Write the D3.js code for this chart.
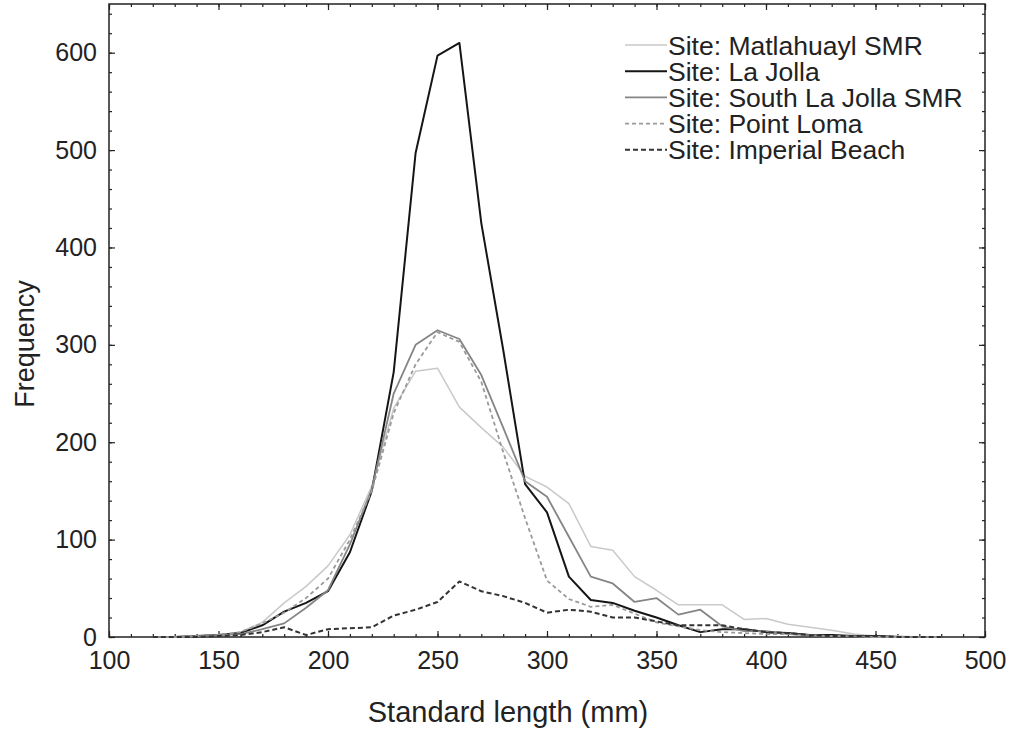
<html>
<head>
  <meta charset="utf-8" />
  <title>Standard length frequency</title>
  <script src="https://d3js.org/d3.v7.min.js"></script>
</head>
<style>
  body { margin: 0; background: #fff; }
  svg { font-family: "Liberation Sans", Arial, sans-serif; }
</style>
<body>
<svg class="main" width="1011" height="734"></svg>
<script>

// bin centres (mm)
var bins = [120, 130, 140, 150, 160, 170, 180, 190, 200, 210, 220, 230, 240, 250, 260, 270, 280, 290,
  300, 310, 320, 330, 340, 350, 360, 370, 380, 390, 400, 410, 420, 430, 440, 450, 460, 470, 480]

var matlahuayl = [0, 0, 1, 2, 5, 15, 35, 52, 73, 105, 155, 235, 273, 276, 236, 215, 195, 165,
  154, 137, 93, 89, 62, 48, 33, 33, 33, 18, 19, 13, 10, 7, 3, 1, 1, 0, 0]
var laJolla = [0, 0, 1, 2, 4, 12, 26, 35, 47, 87, 150, 272, 497, 597, 610, 425, 295, 157,
  128, 62, 38, 35, 27, 20, 12, 5, 8, 8, 5, 4, 2, 2, 1, 1, 0, 0, 0]
var southLaJolla = [0, 0, 1, 2, 3, 8, 14, 30, 48, 95, 152, 250, 300, 315, 306, 269, 215, 160,
  144, 103, 62, 55, 36, 40, 23, 28, 11, 6, 6, 3, 2, 1, 1, 0, 0, 0, 0]
var pointLoma = [0, 0, 1, 2, 5, 14, 25, 40, 60, 100, 150, 230, 280, 313, 303, 262, 190, 122,
  58, 39, 31, 33, 24, 15, 11, 7, 5, 4, 3, 3, 2, 1, 1, 0, 0, 0, 0]
var imperialBeach = [0, 0, 0, 1, 2, 5, 10, 2, 8, 9, 10, 22, 28, 36, 57, 47, 42, 35,
  25, 28, 26, 20, 20, 16, 12, 12, 12, 8, 5, 4, 2, 1, 1, 1, 0, 0, 0]

var seriesNames = ["Site: Matlahuayl SMR", "Site: La Jolla", "Site: South La Jolla SMR",
  "Site: Point Loma", "Site: Imperial Beach"]
var seriesValues = [matlahuayl, laJolla, southLaJolla, pointLoma, imperialBeach]
var seriesColors = ["#c9c9c9", "#151515", "#858585", "#9a9a9a", "#333333"]
var seriesWidths = [1.5, 2, 1.8, 1.8, 2]
var seriesDash = [null, null, null, "4,3", "5,3"]

var xTicks = [100, 150, 200, 250, 300, 350, 400, 450, 500]
var yTicks = [0, 100, 200, 300, 400, 500, 600]

var plotLeft = 109, plotRight = 985, plotTop = 4, plotBottom = 637

var x = d3.scaleLinear().domain([100, 500]).range([plotLeft, plotRight])
var y = d3.scaleLinear().domain([0, 650]).range([plotBottom, plotTop])

var svg = d3.select("svg.main")

// minor ticks
svg.append("g").attr("transform", "translate(0," + plotBottom + ")")
  .call(d3.axisBottom(x).tickValues(d3.range(100, 501, 10)).tickSize(-3).tickFormat(""))
svg.append("g").attr("transform", "translate(0," + plotTop + ")")
  .call(d3.axisTop(x).tickValues(d3.range(100, 501, 10)).tickSize(-3).tickFormat(""))
svg.append("g").attr("transform", "translate(" + plotLeft + ",0)")
  .call(d3.axisLeft(y).tickValues(d3.range(0, 651, 20)).tickSize(-3).tickFormat(""))
svg.append("g").attr("transform", "translate(" + plotRight + ",0)")
  .call(d3.axisRight(y).tickValues(d3.range(0, 651, 20)).tickSize(-3).tickFormat(""))

// major ticks + labels
svg.append("g").attr("class", "xaxis").attr("transform", "translate(0," + plotBottom + ")")
  .call(d3.axisBottom(x).tickValues(xTicks).tickSize(-6).tickPadding(14))
svg.append("g").attr("transform", "translate(0," + plotTop + ")")
  .call(d3.axisTop(x).tickValues(xTicks).tickSize(-6).tickFormat(""))
svg.append("g").attr("class", "yaxis").attr("transform", "translate(" + plotLeft + ",0)")
  .call(d3.axisLeft(y).tickValues(yTicks).tickSize(-6).tickPadding(12))
svg.append("g").attr("transform", "translate(" + plotRight + ",0)")
  .call(d3.axisRight(y).tickValues(yTicks).tickSize(-6).tickFormat(""))

svg.selectAll(".domain").remove()
svg.selectAll(".tick line").attr("stroke", "#222").attr("stroke-width", 1.2)
svg.selectAll(".xaxis text, .yaxis text")
  .style("font-family", "'Liberation Sans', Arial, sans-serif")
  .style("font-size", "25px").attr("fill", "#222")

svg.append("rect")
  .attr("x", plotLeft).attr("y", plotTop)
  .attr("width", plotRight - plotLeft).attr("height", plotBottom - plotTop)
  .attr("fill", "none").attr("stroke", "#222").attr("stroke-width", 1.5)

var line = d3.line()
  .x(function (d, i) { return x(bins[i]) })
  .y(function (d) { return y(d) })

svg.append("g").selectAll("path.series")
  .data(seriesValues)
  .enter()
  .append("path")
  .attr("class", "series")
  .attr("d", line)
  .attr("fill", "none")
  .attr("stroke", function (d, i) { return seriesColors[i] })
  .attr("stroke-width", function (d, i) { return seriesWidths[i] })
  .attr("stroke-dasharray", function (d, i) { return seriesDash[i] })
  .attr("stroke-linejoin", "round")

// legend
var legend = svg.append("g").attr("transform", "translate(625,45)")
var rows = legend.selectAll("g.row")
  .data(seriesNames)
  .enter()
  .append("g")
  .attr("class", "row")
  .attr("transform", function (d, i) { return "translate(0," + i * 26.2 + ")" })

rows.append("line")
  .attr("x1", 0).attr("x2", 42).attr("y1", 0).attr("y2", 0)
  .attr("stroke", function (d, i) { return seriesColors[i] })
  .attr("stroke-width", function (d, i) { return seriesWidths[i] })
  .attr("stroke-dasharray", function (d, i) { return seriesDash[i] })

rows.append("text")
  .attr("x", 43).attr("y", 0).attr("dy", "0.36em")
  .style("font-size", "26.5px").attr("fill", "#222")
  .text(function (d) { return d })

// axis titles
svg.append("text")
  .attr("x", 508).attr("y", 722)
  .attr("text-anchor", "middle")
  .style("font-size", "29px").attr("fill", "#222")
  .text("Standard length (mm)")

svg.append("text")
  .attr("transform", "translate(34,344) rotate(-90)")
  .attr("text-anchor", "middle")
  .style("font-size", "27px").attr("fill", "#222")
  .text("Frequency")

</script>
</body>
</html>
